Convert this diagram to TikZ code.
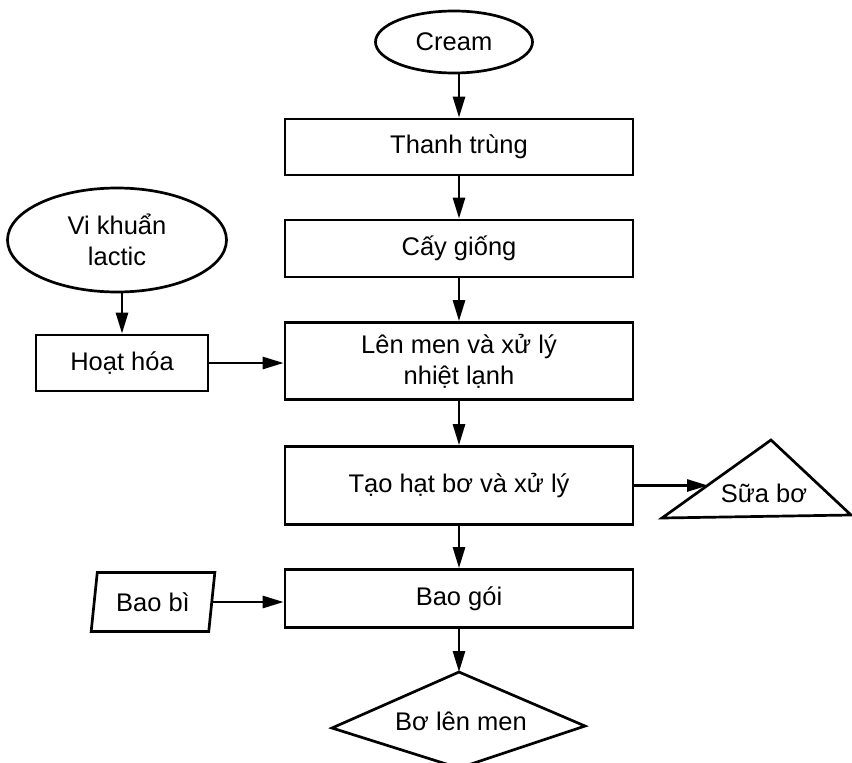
\documentclass[tikz,border=0pt]{standalone}
\usepackage{fontspec}
\setmainfont{Liberation Sans}
\usetikzlibrary{shapes.geometric,arrows.meta}
\begin{document}
\begin{tikzpicture}[x=1pt,y=-1pt,line width=2.7pt,
  txt/.style={font=\fontsize{25.5}{31}\selectfont,align=center,inner sep=0pt},
  procbox/.style={txt,draw,rectangle,minimum width=348pt},
  oval/.style={txt,draw,ellipse},
  flow/.style={-{Triangle[length=21pt,width=12pt]},line width=2.7pt},
  shapeline/.style={line width=2.7pt,line join=miter}]
\useasboundingbox (0,0) rectangle (852,763);
% main column
\node[oval,minimum width=157pt,minimum height=62pt] (cream) at (454,42) {Cream};
\node[procbox,minimum height=56pt] (thanh) at (459,147) {Thanh trùng};
\node[procbox,minimum height=57pt] (cay) at (459,248.5) {Cấy giống};
\node[procbox,minimum height=77pt] (lenmen) at (459,361) {Lên men và xử lý\\nhiệt lạnh};
\node[procbox,minimum height=78pt] (taohat) at (459,485.5) {Tạo hạt bơ và xử lý};
\node[procbox,minimum height=58pt] (baogoi) at (459,598.5) {Bao gói};
% left side
\node[oval,minimum width=219pt,minimum height=104pt] (vk) at (117,240) {Vi khuẩn\\lactic};
\node[procbox,minimum width=172pt,minimum height=56pt] (hoat) at (122,363) {Hoạt hóa};
\node[txt,draw,trapezium,trapezium left angle=78,trapezium right angle=102,
      trapezium stretches=true,minimum width=124pt,minimum height=59pt,shapeline] (baobi) at (153,602) {Bao bì};
% Sua bo triangle
\node[txt] (sua) at (764,493) {Sữa bơ};
\coordinate (suatop) at (771,440);
\coordinate (suaright) at (851,515);
\coordinate (sualeft) at (662,518);
\coordinate (suaedge) at (708,485.5);
\draw[shapeline] (suatop) -- (suaright) -- (sualeft) -- cycle;
% Bo len men diamond
\node[txt] (bolen) at (461,721) {Bơ lên men};
\coordinate (botop) at (459,672);
\coordinate (boright) at (585,726);
\coordinate (bobottom) at (459,768);
\coordinate (boleft) at (332,728);
\draw[shapeline] (botop) -- (boright) -- (bobottom) -- (boleft) -- cycle;
% connectors
\draw[flow] (thanh.north |- cream.south) -- (thanh.north);
\draw[flow] (thanh.south) -- (cay.north);
\draw[flow] (cay.south) -- (lenmen.north);
\draw[flow] (lenmen.south) -- (taohat.north);
\draw[flow] (taohat.south) -- (baogoi.north);
\draw[flow] (baogoi.south) -- (botop);
\draw[flow] (hoat.north |- vk.south) -- (hoat.north);
\draw[flow] (hoat.east) -- (lenmen.west |- hoat.east);
\draw[flow] (baobi.east) -- (baogoi.west |- baobi.east);
\draw[flow] (taohat.east) -- (suaedge);
\end{tikzpicture}
\end{document}
